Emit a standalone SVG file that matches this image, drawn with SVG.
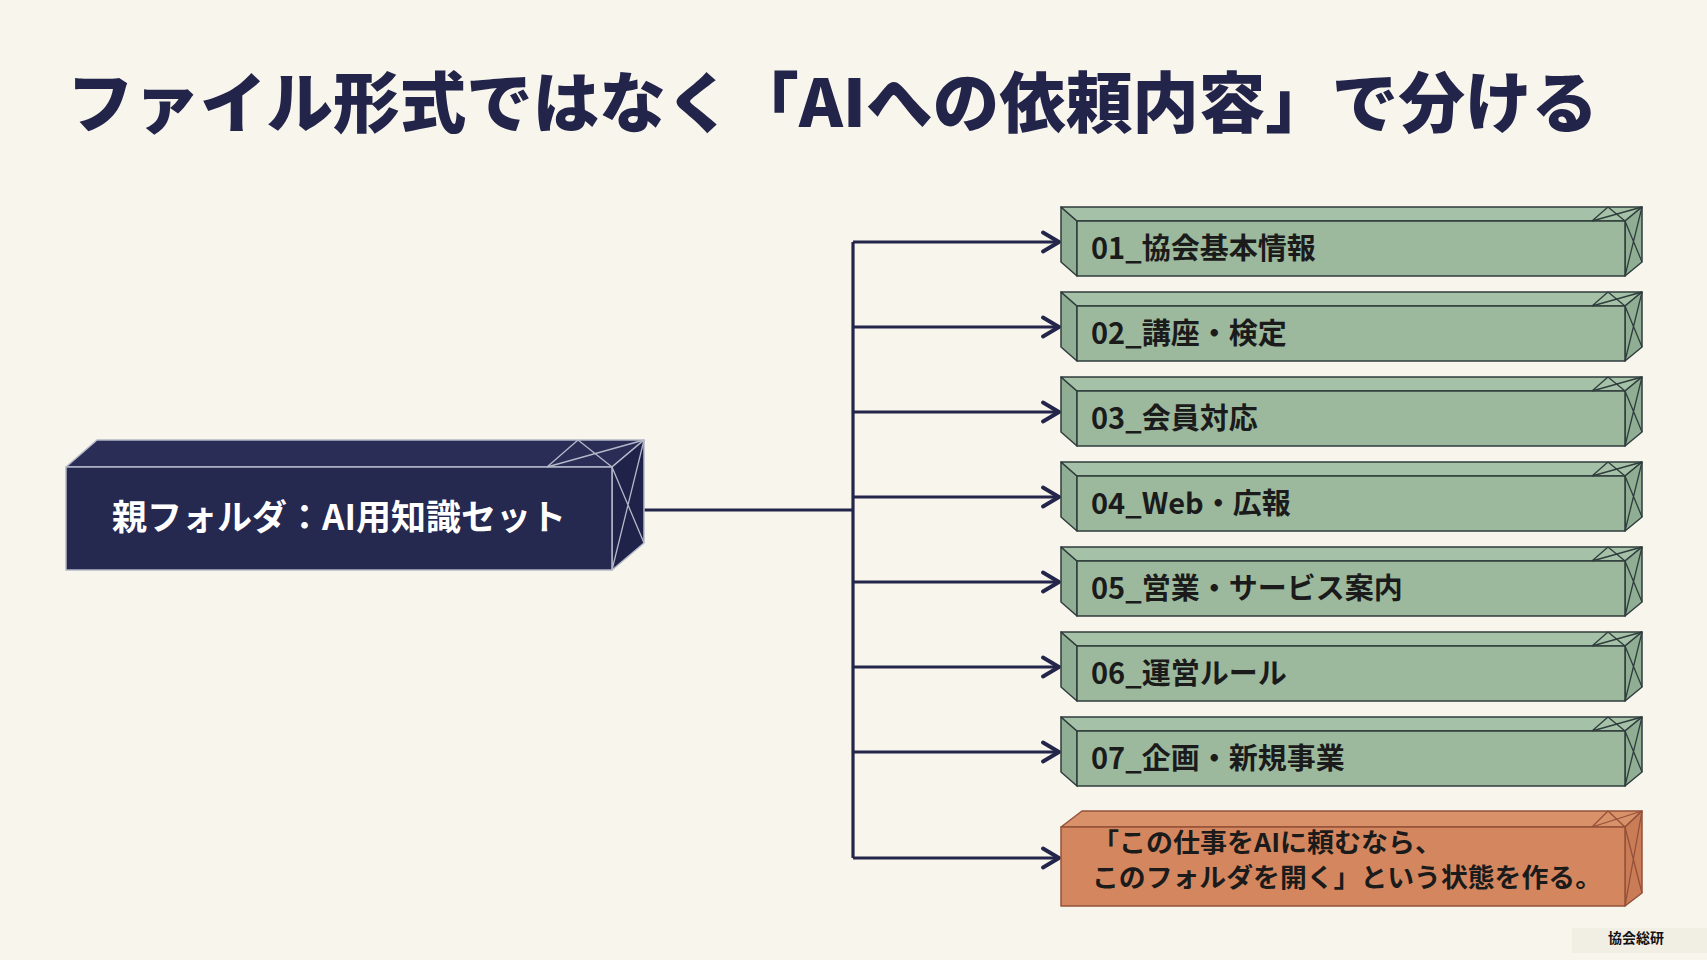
<svg xmlns="http://www.w3.org/2000/svg" width="1707" height="960" viewBox="0 0 1707 960">
<style>
.jp{font-family:"Noto Sans CJK JP","Noto Sans",sans-serif;}
.title{font-size:66px;font-weight:900;fill:#23244a;}
.lbl{font-size:29px;font-weight:700;fill:#1b1b1b;}
.olbl{font-size:26px;font-weight:700;fill:#1b1b1b;}
.nlbl{font-size:35px;font-weight:700;fill:#ffffff;}
.gf{fill:#9cb99e;stroke:#2f3d3d;stroke-width:1.5;stroke-linejoin:round;}
.gt{fill:#a5c1a7;stroke:#2f3d3d;stroke-width:1.5;stroke-linejoin:round;}
.gs{fill:#90ae94;stroke:#2f3d3d;stroke-width:1.5;stroke-linejoin:round;}
.gw{fill:none;stroke:#2f3d3d;stroke-width:1.3;}
.of{fill:#d4875f;stroke:#94513a;stroke-width:1.5;stroke-linejoin:round;}
.ot{fill:#d99169;stroke:#94513a;stroke-width:1.5;stroke-linejoin:round;}
.os{fill:#c97c56;stroke:#94513a;stroke-width:1.5;stroke-linejoin:round;}
.ow{fill:none;stroke:#94513a;stroke-width:1.3;}
.nf{fill:#25284f;stroke:#b4b8c8;stroke-width:1.5;stroke-linejoin:round;}
.nt{fill:#2a2d56;stroke:#b4b8c8;stroke-width:1.5;stroke-linejoin:round;}
.ns{fill:#202349;stroke:#b4b8c8;stroke-width:1.5;stroke-linejoin:round;}
.nw{fill:none;stroke:#b4b8c8;stroke-width:1.3;}
.conn{fill:none;stroke:#23254a;stroke-width:3.2;}
</style>
<defs>
<marker id="arr" viewBox="-20 -12 22 24" refX="0" refY="0" markerWidth="22" markerHeight="24" markerUnits="userSpaceOnUse" orient="auto">
<path d="M-16,-9.5 L0,0 L-16,9.5" fill="none" stroke="#23254a" stroke-width="3.8" stroke-linecap="round" stroke-linejoin="round"/>
</marker>
<g id="gbox">
<polygon class="gs" points="-16,-14 0,0 0,55 -16,41"/>
<polygon class="gt" points="-16,-14 565,-14 548,0 0,0"/>
<polygon class="gs" points="548,0 565,-14 565,41 548,55"/>
<rect class="gf" x="0" y="0" width="548" height="55"/>
<path class="gw" d="M515,0 L531,-14 M515,0 L565,-14 M531,-14 L548,0 M548,0 L565,41 M565,-14 L548,55"/>
</g>
</defs>
<rect x="0" y="0" width="1707" height="960" fill="#f8f5ec"/>
<text class="jp title" x="67" y="127" textLength="1531" lengthAdjust="spacingAndGlyphs">ファイル形式ではなく「AIへの依頼内容」で分ける</text>
<g id="connectors">
<path class="conn" d="M644,510 H853"/>
<path class="conn" d="M853,242 V858"/>
<path class="conn" marker-end="url(#arr)" d="M853,242 H1059"/>
<path class="conn" marker-end="url(#arr)" d="M853,327 H1059"/>
<path class="conn" marker-end="url(#arr)" d="M853,412 H1059"/>
<path class="conn" marker-end="url(#arr)" d="M853,497 H1059"/>
<path class="conn" marker-end="url(#arr)" d="M853,582 H1059"/>
<path class="conn" marker-end="url(#arr)" d="M853,667 H1059"/>
<path class="conn" marker-end="url(#arr)" d="M853,752 H1059"/>
<path class="conn" marker-end="url(#arr)" d="M853,858 H1059"/>
</g>
<g id="parent">
<polygon class="nt" points="66,467 97,440 644,440 612,467"/>
<polygon class="ns" points="612,467 644,440 644,543 612,570"/>
<rect class="nf" x="66" y="467" width="546" height="103"/>
<path class="nw" d="M547,467 L578,440 M547,467 L644,440 M578,440 L612,467 M612,467 L644,543 M644,440 L612,570"/>
<text class="jp nlbl" x="339" y="530" text-anchor="middle">親フォルダ：AI用知識セット</text>
</g>
<g id="f01" transform="translate(1077,221)"><use href="#gbox"/><text class="jp lbl" x="14" y="38">01_協会基本情報</text></g>
<g id="f02" transform="translate(1077,306)"><use href="#gbox"/><text class="jp lbl" x="14" y="38">02_講座・検定</text></g>
<g id="f03" transform="translate(1077,391)"><use href="#gbox"/><text class="jp lbl" x="14" y="38">03_会員対応</text></g>
<g id="f04" transform="translate(1077,476)"><use href="#gbox"/><text class="jp lbl" x="14" y="38">04_Web・広報</text></g>
<g id="f05" transform="translate(1077,561)"><use href="#gbox"/><text class="jp lbl" x="14" y="38">05_営業・サービス案内</text></g>
<g id="f06" transform="translate(1077,646)"><use href="#gbox"/><text class="jp lbl" x="14" y="38">06_運営ルール</text></g>
<g id="f07" transform="translate(1077,731)"><use href="#gbox"/><text class="jp lbl" x="14" y="38">07_企画・新規事業</text></g>
<g id="note">
<polygon class="ot" points="1061,827 1082,811 1642,811 1625,827"/>
<polygon class="os" points="1625,827 1642,811 1642,893 1625,906"/>
<rect class="of" x="1061" y="827" width="564" height="79"/>
<path class="ow" d="M1592,827 L1608,811 M1592,827 L1642,811 M1608,811 L1625,827 M1625,827 L1642,893 M1642,811 L1625,906"/>
<text class="jp olbl" x="1092" y="852" textLength="350" lengthAdjust="spacingAndGlyphs">「この仕事をAIに頼むなら、</text>
<text class="jp olbl" x="1092" y="887" textLength="510" lengthAdjust="spacingAndGlyphs">このフォルダを開く」という状態を作る。</text>
</g>
<g id="watermark">
<rect x="1572" y="928" width="135" height="25" fill="#f1eee4"/>
<text class="jp" x="1636" y="943" font-size="14" font-weight="700" fill="#111" text-anchor="middle">協会総研</text>
</g>
</svg>
